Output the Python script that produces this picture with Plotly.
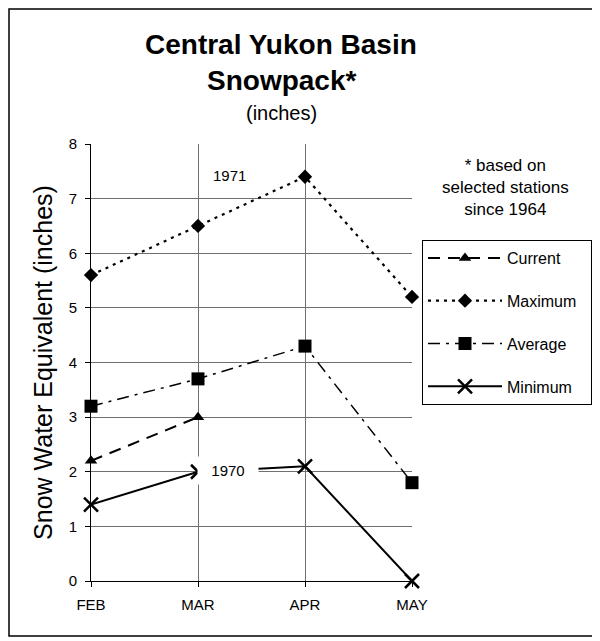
import plotly.graph_objects as go

months = ["FEB", "MAR", "APR", "MAY"]
current = [2.2, 3.0, None, None]
maximum = [5.6, 6.5, 7.4, 5.2]
average = [3.2, 3.7, 4.3, 1.8]
minimum = [1.4, 2.0, 2.1, 0.0]
y_ticks = [0, 1, 2, 3, 4, 5, 6, 7, 8]

xpos = list(range(len(months)))
FONT = "Liberation Sans, Arial, sans-serif"

OFF = 8                      # page body margin
W, H = 600 - OFF, 641 - OFF  # figure size so it fits the window
L, R, T, B = 91 - OFF, 412 - OFF, 144 - OFF, 581 - OFF  # plot area (figure px)

def px_x(p):  # page pixel -> paper fraction
    return (p - OFF - L) / (R - L)

def px_y(p):
    return (B - (p - OFF)) / (B - T)

fig = go.Figure()
fig.add_trace(go.Scatter(
    x=xpos, y=current, name="Current\u00a0\u00a0", mode="lines+markers", legendgroup="a",
    line=dict(color="black", width=2, dash="12px,8px"), cliponaxis=False,
    marker=dict(symbol="triangle-up", size=11, color="black")))
fig.add_trace(go.Scatter(
    x=xpos, y=maximum, name="Maximum\u00a0\u00a0", mode="lines+markers", legendgroup="b",
    line=dict(color="black", width=2.2, dash="3px,5px"), cliponaxis=False,
    marker=dict(symbol="diamond", size=11, color="black")))
fig.add_trace(go.Scatter(
    x=xpos, y=average, name="Average\u00a0\u00a0", mode="lines+markers", legendgroup="c",
    line=dict(color="black", width=1.5, dash="12px,6px,3px,6px"), cliponaxis=False,
    marker=dict(symbol="square", size=13, color="black")))
fig.add_trace(go.Scatter(
    x=xpos, y=minimum, name="Minimum\u00a0\u00a0", mode="lines+markers", legendgroup="d",
    line=dict(color="black", width=2), cliponaxis=False,
    marker=dict(symbol="x-thin-open", size=14, color="black",
                line=dict(width=2.5, color="black"))))

fig.update_layout(
    width=W, height=H,
    margin=dict(l=L, r=W - R, t=T, b=H - B, autoexpand=False),
    paper_bgcolor="white", plot_bgcolor="white",
    font=dict(family=FONT, color="black", size=15),
    showlegend=True,
    legend=dict(
        x=px_x(422), y=px_y(240), xanchor="left", yanchor="top",
        bordercolor="black", borderwidth=1, bgcolor="white",
        font=dict(size=16, family=FONT), tracegroupgap=19, itemwidth=74,
    ),
    xaxis=dict(
        range=[0, 3], tickvals=xpos, ticktext=months,
        showgrid=True, gridcolor="#707070", gridwidth=1,
        showline=True, linecolor="black", linewidth=1,
        ticks="outside", ticklen=5, tickcolor="black",
        tickfont=dict(size=15), zeroline=False, automargin=False,
        ticklabelstandoff=5,
    ),
    yaxis=dict(
        range=[0, 8], tickvals=y_ticks,
        showgrid=True, gridcolor="#707070", gridwidth=1,
        showline=True, linecolor="black", linewidth=1,
        ticks="outside", ticklen=5, tickcolor="black",
        tickfont=dict(size=15), zeroline=False, automargin=False,
        ticklabelstandoff=5,
        title=dict(text="Snow Water Equivalent (inches)", font=dict(size=25), standoff=8),
    ),
)

# frame around the whole chart
fig.add_shape(type="rect", xref="paper", yref="paper",
              x0=px_x(9), x1=px_x(595), y0=px_y(636), y1=px_y(9),
              line=dict(color="black", width=1.5), layer="below")

def note(text, x, y, size, **kw):
    fig.add_annotation(text=text, x=px_x(x), y=px_y(y), xref="paper", yref="paper",
                       xanchor="center", yanchor="middle", showarrow=False,
                       font=dict(size=size, family=FONT), **kw)

note("<b>Central Yukon Basin</b>", 281, 45, 28)
note("<b>Snowpack*</b>", 281, 80, 28)
note("(inches)", 281, 113, 20)
note("* based on<br>selected stations<br>since 1964", 505, 187, 17)

fig.add_annotation(text="1971", x=1.29, y=7.42, showarrow=False,
                   font=dict(size=15, family=FONT))
fig.add_annotation(text="1970", x=1.28, y=2.03, showarrow=False,
                   bgcolor="white", borderpad=5, width=50,
                   font=dict(size=15, family=FONT))

fig.write_html("out.html")
